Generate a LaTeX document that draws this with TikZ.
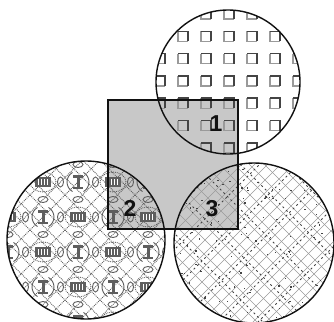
\documentclass[tikz,border=0pt]{standalone}
\usepackage{fontspec}
\setmainfont{Liberation Sans}
\usepackage{xcolor}
\definecolor{vennink}{HTML}{111111}
\definecolor{venngray}{HTML}{C8C8C8}
\definecolor{vennbrick}{HTML}{444444}
\definecolor{vennbricklight}{HTML}{9A9A9A}
\definecolor{vennlace}{HTML}{5E5E5E}
\definecolor{vennhatch}{HTML}{9A9A9A}

\begin{document}
\begin{tikzpicture}[
  x=1pt,
  y=-1pt,
  outline/.style={draw=vennink, line width=1.4pt},
  region/.style={font=\fontsize{23}{23}\selectfont\bfseries, text=vennink, inner sep=0pt},
  brick/.style={draw=vennbrick, line width=1.5pt},
  bricklight/.style={draw=vennbricklight, line width=1.2pt},
  lace/.style={draw=vennlace, line width=0.9pt},
  lacebar/.style={fill=vennlace},
  hatch/.style={draw=vennhatch, line width=0.6pt},
  hatchdark/.style={draw=vennbrick, line width=0.8pt, dash pattern=on 2pt off 3pt}
]
  \def\circleA{(228,82) circle[radius=72pt]}
  \def\circleB{(86,240) circle[radius=79pt]}
  \def\circleC{(254,243) circle[radius=80pt]}
  \useasboundingbox (0,0) rectangle (334,321);

  \fill[venngray] (108,100) rectangle (238,229);

  % circle 1: open squares
  \begin{scope}
    \clip \circleA;
    \foreach \i in {-1,...,6}
      \foreach \j in {0,...,6} {
        \draw[bricklight] ({160+23*\i-5},{14+22.3*\j-5}) -- ++(0,10) -- ++(10,0);
        \draw[brick] ({160+23*\i-5},{14+22.3*\j-5}) -- ++(10,0) -- ++(0,10);
      }
  \end{scope}

  % circle 2: lace
  \begin{scope}
    \clip \circleB;
    \foreach \c in {0,17.5,...,360}
      \draw[lace, densely dotted] (\c-200,140) -- ++(200,200);
    \foreach \c in {0,17.5,...,360}
      \draw[lace, densely dotted] (\c-20,140) -- ++(-200,200);
    \foreach \a in {-2,...,3}
      \foreach \b in {-3,...,3} {
        \pgfmathsetmacro{\px}{43+35*\a}
        \pgfmathsetmacro{\py}{252+35*\b}
        \pgfmathtruncatemacro{\parity}{mod(abs(\a+\b),2)}
        \ifnum\parity=0
          \fill[lacebar] (\px-8,\py-5) rectangle ++(16,10);
          \foreach \s in {-5,-2,1,4}
            \fill[white] (\px+\s,\py-3) rectangle ++(1.2,6);
          \draw[lace, densely dotted] (\px,\py) ellipse[x radius=13pt, y radius=10pt];
        \else
          \fill[lacebar] (\px-5,\py-7) rectangle ++(10,2.5);
          \fill[lacebar] (\px-5,\py+4.5) rectangle ++(10,2.5);
          \fill[lacebar] (\px-1.5,\py-5) rectangle ++(3,10);
          \draw[lace] (\px-11,\py) arc[start angle=180, end angle=120, radius=11pt];
          \draw[lace] (\px+11,\py) arc[start angle=0, end angle=60, radius=11pt];
          \draw[lace] (\px-11,\py) arc[start angle=180, end angle=240, radius=11pt];
          \draw[lace] (\px+11,\py) arc[start angle=0, end angle=-60, radius=11pt];
        \fi
        \draw[lace] (\px+17.5,\py) ellipse[x radius=3pt, y radius=5pt];
        \draw[lace] (\px,\py+17.5) ellipse[x radius=5pt, y radius=3pt];
      }
  \end{scope}

  % circle 3: cross hatch
  \begin{scope}
    \clip \circleC;
    \foreach \c in {380,393,...,614}
      \draw[hatch] (\c-340,340) -- (\c-150,150);
    \foreach \c in {-110,-95,...,130}
      \draw[hatch] (\c+150,150) -- (\c+340,340);
    \foreach \c in {385,424,...,614}
      \draw[hatchdark] (\c-340,340) -- (\c-150,150);
    \foreach \c in {-104,-59,...,130}
      \draw[hatchdark] (\c+150,150) -- (\c+340,340);
    \pgfmathsetseed{7}
    \foreach \k in {1,...,120}
      \fill[vennbrick] ({174+160*rnd},{163+160*rnd}) rectangle ++(1.3,1.3);
  \end{scope}

  \draw[outline] (108,100) rectangle (238,229);
  \draw[outline] \circleA;
  \draw[outline] \circleB;
  \draw[outline] \circleC;

  \node[region] (one) at (216,124) {1};
  \node[region] (two) at (130,208) {2};
  \node[region] (three) at (212,209) {3};
\end{tikzpicture}
\end{document}
